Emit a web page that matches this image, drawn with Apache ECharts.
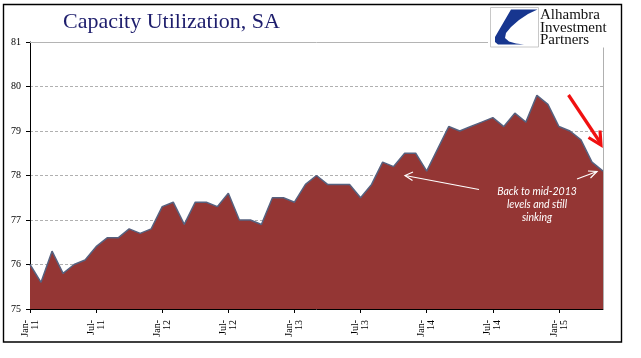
<!DOCTYPE html>
<html><head><meta charset="utf-8">
<script src="https://cdn.jsdelivr.net/npm/echarts@6/dist/echarts.min.js"></script>
<style>html,body{margin:0;padding:0;background:#fff}#c{width:641px;height:358px}</style>
</head><body><div id="c"></div>
<script>
const categories = [
  'Jan-11','Feb-11','Mar-11','Apr-11','May-11','Jun-11','Jul-11','Aug-11','Sep-11','Oct-11','Nov-11','Dec-11',
  'Jan-12','Feb-12','Mar-12','Apr-12','May-12','Jun-12','Jul-12','Aug-12','Sep-12','Oct-12','Nov-12','Dec-12',
  'Jan-13','Feb-13','Mar-13','Apr-13','May-13','Jun-13','Jul-13','Aug-13','Sep-13','Oct-13','Nov-13','Dec-13',
  'Jan-14','Feb-14','Mar-14','Apr-14','May-14','Jun-14','Jul-14','Aug-14','Sep-14','Oct-14','Nov-14','Dec-14',
  'Jan-15','Feb-15','Mar-15','Apr-15','May-15'
];
const utilization = [
  76.0,75.6,76.3,75.8,76.0,76.1,76.4,76.6,76.6,76.8,76.7,76.8,
  77.3,77.4,76.9,77.4,77.4,77.3,77.6,77.0,77.0,76.9,77.5,77.5,
  77.4,77.8,78.0,77.8,77.8,77.8,77.5,77.8,78.3,78.2,78.5,78.5,
  78.1,78.6,79.1,79.0,79.1,79.2,79.3,79.1,79.4,79.2,79.8,79.6,
  79.1,79.0,78.8,78.3,78.1
];
const yTicks = [75,76,77,78,79,80,81];
const titleText = 'Capacity Utilization, SA';
const logoLines = ['Alhambra','Investment','Partners'];
const noteLines = ['Back to mid-2013','levels and still','sinking'];

const chart = echarts.init(document.getElementById('c'), null, {renderer:'canvas'});
const serif = '"Liberation Serif", "DejaVu Serif", serif';
const noteFont = 'italic 10.5px Lato, "Open Sans", sans-serif';

const option = {
  animation: false,
  backgroundColor: '#fff',
  title: {
    text: titleText, left: 63, top: 11, padding: 0,
    textStyle: {fontFamily: serif, fontSize: 22, fontWeight: 'normal', color: '#1d1d6c'}
  },
  grid: {left: 30, right: 38, top: 42, bottom: 49, containLabel: false},
  xAxis: {
    type: 'category', data: categories, boundaryGap: false,
    axisLine: {show: true, lineStyle: {color: '#000', width: 1}},
    axisTick: {show: true, interval: 5, length: 4, lineStyle: {color: '#000'}},
    axisLabel: {
      interval: 5, rotate: 90, margin: 11,
      fontFamily: serif, fontSize: 10, color: '#000', lineHeight: 10,
      formatter: v => v.replace('-', '-\n')
    },
    splitLine: {show: false}
  },
  yAxis: {
    type: 'value', min: yTicks[0], max: yTicks[yTicks.length-1], interval: 1,
    axisLine: {show: true, lineStyle: {color: '#000', width: 1}},
    axisTick: {show: true, length: 4, lineStyle: {color: '#000'}},
    axisLabel: {margin: 9, fontFamily: serif, fontSize: 10, color: '#000'},
    splitLine: {show: true, showMaxLine: false, showMinLine: false,
      lineStyle: {color: '#b0b0b0', type: [3, 2], width: 1}}
  },
  series: [{
    type: 'line', data: utilization, symbol: 'none',
    lineStyle: {color: '#56617f', width: 1.5},
    areaStyle: {color: '#943634', opacity: 1},
    z: 2,
    markLine: {
      silent: true, symbol: 'none', label: {show: false},
      data: [
        {yAxis: yTicks[yTicks.length-1], lineStyle: {color: '#b4b4b4', type: 'solid', width: 1}},
        {xAxis: categories[categories.length-1], lineStyle: {color: '#b0b0b0', type: 'solid', width: 1}}
      ]
    }
  }],
  graphic: [
    {type: 'rect', shape: {x: 488, y: 6, width: 132, height: 41.5}, style: {fill: '#fff'}, z: 10},
    {type: 'rect', shape: {x: 490.5, y: 7.5, width: 48, height: 39.5}, style: {fill: '#fff', stroke: '#c8c8c8', lineWidth: 1}, z: 11},
    {type: 'polygon', shape: {points: [[511,9.5],[537.5,9.5],[528,14],[519,20],[511,27],[506,33],[505,38],[509,41.5],[516,43.5],[524,44.5],[498,44.5],[495,42],[495,37]]},
      style: {fill: '#17368f'}, z: 12},
    {type: 'text', x: 540, y: 15, z: 12, style: {text: logoLines[0], font: '15px ' + serif, fill: '#111', verticalAlign: 'middle'}},
    {type: 'text', x: 540, y: 28, z: 12, style: {text: logoLines[1], font: '15px ' + serif, fill: '#111', verticalAlign: 'middle'}},
    {type: 'text', x: 540, y: 40, z: 12, style: {text: logoLines[2], font: '15px ' + serif, fill: '#111', verticalAlign: 'middle'}},
    {type: 'rect', shape: {x: 3.5, y: 4.5, width: 618, height: 337.5}, style: {fill: null, stroke: '#000', lineWidth: 1.4}, z: 20},
    {type: 'text', x: 537, y: 192, z: 15, style: {text: noteLines[0], font: noteFont, fill: '#fff', align: 'center', verticalAlign: 'middle'}},
    {type: 'text', x: 537, y: 205, z: 15, style: {text: noteLines[1], font: noteFont, fill: '#fff', align: 'center', verticalAlign: 'middle'}},
    {type: 'text', x: 537, y: 218, z: 15, style: {text: noteLines[2], font: noteFont, fill: '#fff', align: 'center', verticalAlign: 'middle'}},
    {type: 'line', shape: {x1: 479, y1: 189.5, x2: 405, y2: 175.5}, style: {stroke: '#fff', lineWidth: 1.2}, z: 15},
    {type: 'polyline', shape: {points: [[413, 172], [405, 175.5], [412.5, 180.5]]}, style: {stroke: '#fff', lineWidth: 1.2, fill: null}, z: 15},
    {type: 'line', shape: {x1: 577, y1: 179, x2: 597, y2: 171.5}, style: {stroke: '#fff', lineWidth: 1.2}, z: 15},
    {type: 'polyline', shape: {points: [[588, 171], [597, 171.5], [590.5, 178]]}, style: {stroke: '#fff', lineWidth: 1.2, fill: null}, z: 15},
    {type: 'line', shape: {x1: 568.5, y1: 95, x2: 600.5, y2: 143}, style: {stroke: '#f01010', lineWidth: 3.2}, z: 15},
    {type: 'polyline', shape: {points: [[588.5, 137.5], [601, 145], [600, 130.5]]}, style: {stroke: '#f01010', lineWidth: 3.2, fill: null, lineJoin: 'miter'}, z: 15}
  ]
};
chart.setOption(option);
</script>
</body></html>
